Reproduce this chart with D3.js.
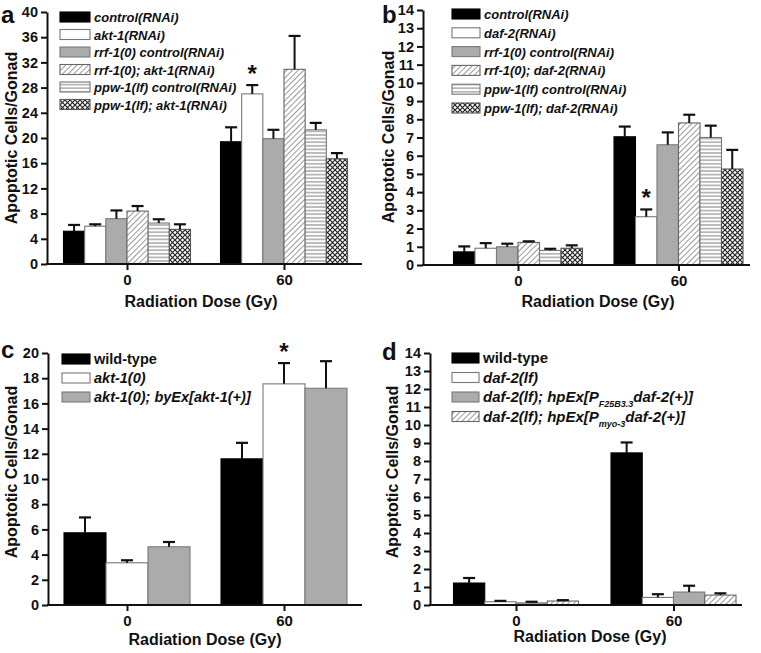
<!DOCTYPE html>
<html><head><meta charset="utf-8">
<script src="https://cdn.jsdelivr.net/npm/d3@7"></script>
<style>
body{margin:0;background:#fff}
text{font-family:"Liberation Sans",Arial,Helvetica,sans-serif;font-weight:bold;fill:#111}
</style>
</head><body>
<svg id="chart" width="761" height="653"></svg>
<script>
// ---------- DATA ----------
const doses = ["0", "60"];

// panel a
const aSeries = ["control(RNAi)", "akt-1(RNAi)", "rrf-1(0) control(RNAi)", "rrf-1(0); akt-1(RNAi)", "ppw-1(lf) control(RNAi)", "ppw-1(lf); akt-1(RNAi)"];
const aMean0 = [5.2, 6.0, 7.2, 8.4, 6.5, 5.5];
const aSem0 = [1.0, 0.3, 1.3, 0.8, 0.6, 0.8];
const aMean60 = [19.4, 27.0, 19.9, 30.9, 21.3, 16.7];
const aSem60 = [2.3, 1.4, 1.4, 5.3, 1.1, 0.9];
const aTicks = [0, 4, 8, 12, 16, 20, 24, 28, 32, 36, 40];

// panel b
const bSeries = ["control(RNAi)", "daf-2(RNAi)", "rrf-1(0) control(RNAi)", "rrf-1(0); daf-2(RNAi)", "ppw-1(lf) control(RNAi)", "ppw-1(lf); daf-2(RNAi)"];
const bMean0 = [0.72, 0.92, 1.0, 1.24, 0.8, 0.92];
const bSem0 = [0.3, 0.28, 0.17, 0.06, 0.09, 0.16];
const bMean60 = [7.04, 2.65, 6.6, 7.8, 7.0, 5.27];
const bSem60 = [0.56, 0.4, 0.68, 0.45, 0.65, 1.05];
const bTicks = [0, 1, 2, 3, 4, 5, 6, 7, 8, 9, 10, 11, 12, 13, 14];

// panel c
const cSeries = ["wild-type", "akt-1(0)", "akt-1(0); byEx[akt-1(+)]"];
const cMean0 = [5.73, 3.35, 4.62];
const cSem0 = [1.22, 0.2, 0.38];
const cMean60 = [11.6, 17.55, 17.2];
const cSem60 = [1.27, 1.65, 2.15];
const cTicks = [0, 2, 4, 6, 8, 10, 12, 14, 16, 18, 20];

// panel d
const dSeries = ["wild-type", "daf-2(lf)", "daf-2(lf); hpEx[P|F25B3.3|daf-2(+)]", "daf-2(lf); hpEx[P|myo-3|daf-2(+)]"];
const dMean0 = [1.22, 0.18, 0.12, 0.22];
const dSem0 = [0.28, 0.05, 0.06, 0.05];
const dMean60 = [8.45, 0.42, 0.72, 0.55];
const dSem60 = [0.58, 0.18, 0.35, 0.1];
const dTicks = [0, 1, 2, 3, 4, 5, 6, 7, 8, 9, 10, 11, 12, 13, 14];

// ---------- STYLE ----------
const svg = d3.select("#chart");
const defs = svg.append("defs");

function addPattern(id, w, h, draw, rot) {
  const p = defs.append("pattern").attr("id", id).attr("patternUnits", "userSpaceOnUse")
    .attr("width", w).attr("height", h);
  if (rot) p.attr("patternTransform", "rotate(" + rot + ")");
  p.append("rect").attr("width", w).attr("height", h).attr("fill", "#fff");
  draw(p);
}
addPattern("hatch", 4, 4, p => p.append("line").attr("x1", 0).attr("y1", 0).attr("x2", 0).attr("y2", 4)
  .attr("stroke", "#444").attr("stroke-width", 1.1), 45);
addPattern("hlines", 4, 3.6, p => p.append("line").attr("x1", 0).attr("y1", 1.8).attr("x2", 4).attr("y2", 1.8)
  .attr("stroke", "#666").attr("stroke-width", 0.9));
addPattern("cross", 5, 5, p => p.append("path").attr("d", "M0,0L5,5M5,0L0,5")
  .attr("stroke", "#222").attr("stroke-width", 1.2).attr("fill", "none"));

const styles = {
  black: {fill: "#000", stroke: "#000"},
  white: {fill: "#fff", stroke: "#777"},
  gray: {fill: "#ababab", stroke: "#7a7a7a"},
  hatch: {fill: "url(#hatch)", stroke: "#666"},
  hlines: {fill: "url(#hlines)", stroke: "#777"},
  cross: {fill: "url(#cross)", stroke: "#555"}
};

function drawPanel(cfg) {
  const g = svg.append("g");
  const y = d3.scaleLinear().domain([0, cfg.ymax]).range([cfg.y0, cfg.y1]);
  const x = d3.scalePoint().domain(doses).range(cfg.centers);
  const inner = d3.scaleBand().domain(d3.range(cfg.series.length)).range([-cfg.gw / 2, cfg.gw / 2]).padding(0);

  const data = [];
  doses.forEach((dose, di) => {
    const means = di === 0 ? cfg.mean0 : cfg.mean60;
    const sems = di === 0 ? cfg.sem0 : cfg.sem60;
    means.forEach((m, i) => data.push({dose, i, m, s: sems[i]}));
  });

  // bars
  g.selectAll("rect.bar").data(data).join("rect").attr("class", "bar")
    .attr("x", d => x(d.dose) + inner(d.i))
    .attr("width", inner.bandwidth())
    .attr("y", d => y(d.m))
    .attr("height", d => y(0) - y(d.m))
    .attr("fill", d => styles[cfg.styles[d.i]].fill)
    .attr("stroke", d => styles[cfg.styles[d.i]].stroke)
    .attr("stroke-width", 1.1);

  // error bars
  const eb = g.selectAll("g.err").data(data).join("g").attr("class", "err");
  eb.append("line")
    .attr("x1", d => x(d.dose) + inner(d.i) + inner.bandwidth() / 2)
    .attr("x2", d => x(d.dose) + inner(d.i) + inner.bandwidth() / 2)
    .attr("y1", d => y(d.m)).attr("y2", d => y(d.m + d.s))
    .attr("stroke", "#111").attr("stroke-width", 2);
  eb.append("line")
    .attr("x1", d => x(d.dose) + inner(d.i) + inner.bandwidth() / 2 - cfg.cap)
    .attr("x2", d => x(d.dose) + inner(d.i) + inner.bandwidth() / 2 + cfg.cap)
    .attr("y1", d => y(d.m + d.s)).attr("y2", d => y(d.m + d.s))
    .attr("stroke", "#111").attr("stroke-width", 2.2);

  // star
  if (cfg.star >= 0) {
    const sd = data.find(d => d.dose === "60" && d.i === cfg.star);
    g.append("text").attr("x", x("60") + inner(cfg.star) + inner.bandwidth() / 2)
      .attr("y", y(sd.m + sd.s) - 3).attr("text-anchor", "middle")
      .style("font-size", "24px").text("*");
  }

  // y axis
  const ya = g.append("g").attr("transform", `translate(${cfg.ax},0)`)
    .call(d3.axisLeft(y).tickValues(cfg.ticks).tickSize(6).tickSizeOuter(0).tickPadding(3));
  ya.select(".domain").attr("stroke", "#111").attr("stroke-width", 2);
  ya.selectAll(".tick line").attr("stroke", "#111").attr("stroke-width", 2);
  ya.selectAll(".tick text").style("font-size", "14.5px").style("font-family", "Liberation Sans, Arial, sans-serif")
    .style("font-weight", "bold").attr("fill", "#111");

  // x axis
  g.append("line").attr("x1", cfg.ax - 1).attr("x2", cfg.xEnd).attr("y1", y(0)).attr("y2", y(0))
    .attr("stroke", "#111").attr("stroke-width", 2);
  const xa = g.append("g").attr("transform", `translate(0,${y(0)})`)
    .call(d3.axisBottom(x).tickSize(6).tickPadding(4));
  xa.select(".domain").remove();
  xa.selectAll(".tick line").attr("stroke", "#111").attr("stroke-width", 2);
  xa.selectAll(".tick text").style("font-size", "15px").style("font-family", "Liberation Sans, Arial, sans-serif")
    .style("font-weight", "bold").attr("fill", "#111");

  // titles
  g.append("text").attr("transform", `translate(${cfg.ytx},${cfg.yty}) rotate(-90)`)
    .attr("text-anchor", "middle").style("font-size", "16px").text("Apoptotic Cells/Gonad");
  g.append("text").attr("x", cfg.xtx).attr("y", cfg.xty).attr("text-anchor", "middle")
    .style("font-size", "16px").text("Radiation Dose (Gy)");
  g.append("text").attr("x", cfg.lx).attr("y", cfg.ly).style("font-size", "24px").text(cfg.letter);

  // legend
  const lg = g.append("g");
  cfg.series.forEach((name, i) => {
    const cy = cfg.leg.y + i * cfg.leg.dy;
    const st = styles[cfg.styles[i]];
    lg.append("rect").attr("x", cfg.leg.x).attr("y", cy - 5).attr("width", cfg.leg.w).attr("height", 10)
      .attr("fill", st.fill).attr("stroke", st.stroke).attr("stroke-width", 1.1);
    const t = lg.append("text").attr("x", cfg.leg.x + cfg.leg.w + 4).attr("y", cy + 5)
      .style("font-size", cfg.leg.fs + "px").style("font-style", name === "wild-type" ? "normal" : "italic");
    const parts = name.split("|");
    if (parts.length === 3) {
      t.append("tspan").text(parts[0]);
      t.append("tspan").attr("dy", 5).style("font-size", "9px").text(parts[1]);
      t.append("tspan").attr("dy", -5).text(parts[2]);
    } else {
      t.text(name);
    }
  });
}

drawPanel({
  letter: "a", lx: 1, ly: 23,
  series: aSeries, mean0: aMean0, sem0: aSem0, mean60: aMean60, sem60: aSem60, ticks: aTicks,
  styles: ["black", "white", "gray", "hatch", "hlines", "cross"],
  ymax: 40, y0: 264, y1: 12, ax: 47, xEnd: 362, centers: [127, 284], gw: 127, cap: 6,
  star: 1, ytx: 17, yty: 138, xtx: 201, xty: 307,
  leg: {x: 60, y: 17, dy: 17.5, w: 30, fs: 13}
});
drawPanel({
  letter: "b", lx: 382, ly: 23,
  series: bSeries, mean0: bMean0, sem0: bSem0, mean60: bMean60, sem60: bSem60, ticks: bTicks,
  styles: ["black", "white", "gray", "hatch", "hlines", "cross"],
  ymax: 14, y0: 265, y1: 10, ax: 423, xEnd: 750, centers: [518, 678.5], gw: 129, cap: 6,
  star: 1, ytx: 394, yty: 137, xtx: 598, xty: 307,
  leg: {x: 452, y: 14, dy: 18.8, w: 28, fs: 13}
});
drawPanel({
  letter: "c", lx: 1, ly: 358,
  series: cSeries, mean0: cMean0, sem0: cSem0, mean60: cMean60, sem60: cSem60, ticks: cTicks,
  styles: ["black", "white", "gray"],
  ymax: 20, y0: 605, y1: 353, ax: 48, xEnd: 362, centers: [127, 284], gw: 126, cap: 6,
  star: 1, ytx: 17, yty: 472, xtx: 205, xty: 645,
  leg: {x: 62, y: 359, dy: 19, w: 28, fs: 14.5}
});
drawPanel({
  letter: "d", lx: 382, ly: 360,
  series: dSeries, mean0: dMean0, sem0: dSem0, mean60: dMean60, sem60: dSem60, ticks: dTicks,
  styles: ["black", "white", "gray", "hatch"],
  ymax: 14, y0: 605, y1: 353, ax: 430, xEnd: 742, centers: [516, 673.5], gw: 125, cap: 6,
  star: -1, ytx: 398, yty: 472, xtx: 590, xty: 642,
  leg: {x: 452, y: 358, dy: 19.5, w: 27, fs: 15}
});
</script>
</body></html>
